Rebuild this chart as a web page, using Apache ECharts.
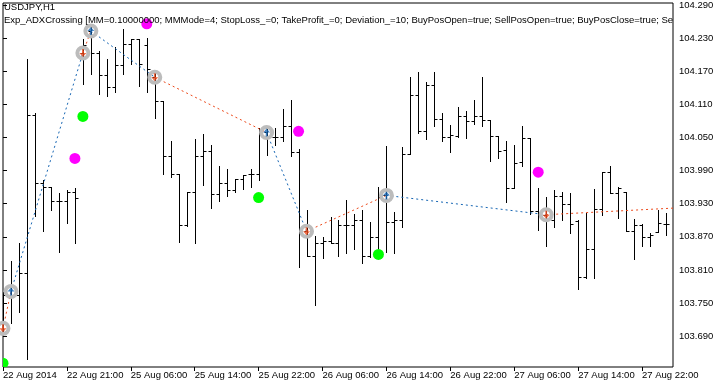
<!DOCTYPE html>
<html><head><meta charset="utf-8">
<script src="https://cdn.jsdelivr.net/npm/echarts@6/dist/echarts.min.js"></script>
<style>html,body{margin:0;padding:0;background:#fff}#c{width:726px;height:387px}</style>
</head><body><div id="c"></div>
<script>
// ---- data ----
const tickPositions = [0, 8, 16, 24, 32, 40, 48, 56, 64, 72, 80];
const tickLabels = ["22 Aug 2014", "22 Aug 21:00", "25 Aug 06:00", "25 Aug 14:00", "25 Aug 22:00", "26 Aug 06:00", "26 Aug 14:00", "26 Aug 22:00", "27 Aug 06:00", "27 Aug 14:00", "27 Aug 22:00"];
const priceTicks = [103.69, 103.75, 103.81, 103.87, 103.93, 103.99, 104.05, 104.11, 104.17, 104.23, 104.29];

const opens = [103.704,103.764,103.764,103.805,104.091,103.967,103.960,103.935,103.935,103.952,
104.203,104.243,104.203,104.163,104.142,104.181,104.219,104.228,104.218,104.159,
104.116,104.017,103.983,103.891,103.951,104.017,104.026,103.947,103.967,103.955,
103.974,103.983,103.983,104.059,104.050,104.050,104.070,104.023,103.880,103.835,
103.858,103.863,103.858,103.891,103.891,103.901,103.835,103.869,103.945,103.897,
103.901,104.020,104.127,104.061,104.145,104.083,104.051,104.053,104.088,104.079,
104.089,104.082,104.053,104.027,103.959,104.006,104.049,103.916,103.910,103.900,
103.943,103.930,103.898,103.797,103.847,103.920,103.987,103.950,103.951,103.880,
103.892,103.869,103.878,103.894];
const highs = [103.770,103.826,103.859,104.192,104.094,103.972,103.960,103.950,103.954,103.959,
104.229,104.252,104.207,104.192,104.213,104.246,104.228,104.228,104.231,104.168,
104.116,104.044,103.983,103.951,104.047,104.057,104.037,103.999,103.993,103.975,
103.982,103.993,104.067,104.071,104.068,104.102,104.118,104.029,103.919,103.871,
103.869,103.905,103.900,103.936,103.912,103.919,103.897,103.960,104.034,103.915,
104.032,104.159,104.169,104.151,104.168,104.094,104.073,104.106,104.098,104.118,
104.160,104.082,104.053,104.043,104.037,104.070,104.049,103.959,103.942,103.954,
103.952,103.950,103.900,103.913,103.957,103.988,103.999,103.960,103.952,103.903,
103.894,103.876,103.919,103.913];
const lows = [103.694,103.714,103.734,103.648,103.907,103.880,103.919,103.842,103.895,103.858,
104.147,104.165,104.129,104.126,104.132,104.165,104.183,104.144,104.133,104.086,
103.983,103.978,103.860,103.889,103.859,103.964,103.923,103.934,103.944,103.952,
103.957,103.960,103.972,104.019,104.037,104.044,104.017,103.815,103.835,103.747,
103.832,103.858,103.836,103.841,103.848,103.822,103.833,103.848,103.842,103.841,
103.888,104.020,104.058,104.048,104.071,104.043,104.023,104.051,104.049,104.074,
104.070,104.007,104.013,103.933,103.959,103.999,103.912,103.882,103.854,103.888,
103.900,103.876,103.776,103.796,103.796,103.909,103.949,103.904,103.880,103.830,
103.854,103.854,103.878,103.874];
const closes = [103.764,103.764,103.805,104.091,103.967,103.960,103.935,103.935,103.952,103.941,
104.218,104.203,104.163,104.142,104.181,104.219,104.228,104.183,104.174,104.116,
104.017,103.983,103.891,103.951,104.017,104.026,103.947,103.967,103.955,103.974,
103.982,103.983,104.057,104.050,104.050,104.070,104.023,103.880,103.835,103.858,
103.863,103.858,103.891,103.891,103.901,103.835,103.869,103.942,103.897,103.901,
104.020,104.127,104.061,104.145,104.083,104.051,104.055,104.088,104.079,104.089,
104.082,104.053,104.025,103.959,104.004,104.049,103.916,103.910,103.900,103.943,
103.930,103.894,103.797,103.847,103.920,103.987,103.950,103.959,103.880,103.892,
103.869,103.874,103.895,103.894];

const tradeBars = [0, 1, 10, 11, 19, 33, 38, 48, 68];
const tradePrices = [103.704, 103.771, 104.203, 104.243, 104.159, 104.059, 103.880, 103.945, 103.910];
const tradeTypes = ["sell", "buy", "sell", "buy", "sell", "buy", "sell", "buy", "sell"];
const openEndBar = 84;
const openEndPrice = 103.922;

const buySignalBars = [0, 10, 32, 47];
const buySignalPrices = [103.641, 104.088, 103.941, 103.838];
const sellSignalBars = [9, 18, 37, 67];
const sellSignalPrices = [104.012, 104.256, 104.061, 103.987];

const titleLine1 = "USDJPY,H1";
const titleLine2 = "Exp_ADXCrossing [MM=0.10000000; MMMode=4; StopLoss_=0; TakeProfit_=0; Deviation_=10; BuyPosOpen=true; SellPosOpen=true; BuyPosClose=true; Se";

// ---- chart ----
const FONT = "Liberation Sans";
const FS = 9.5;
const BLUE = "#1666b4";
const RED = "#ec4a1c";

const chart = echarts.init(document.getElementById('c'), null, {renderer: 'canvas'});

const ohlc = opens.map((o, i) => [i, o, highs[i], lows[i], closes[i]]);

const series = [];
series.push({
  type: 'custom',
  name: 'bars',
  data: ohlc,
  encode: {x: 0, y: [1, 2, 3, 4]},
  clip: true,
  z: 2,
  renderItem: function (params, api) {
    const i = api.value(0);
    const o = api.coord([i, api.value(1)]);
    const h = api.coord([i, api.value(2)]);
    const l = api.coord([i, api.value(3)]);
    const c = api.coord([i, api.value(4)]);
    const x = Math.round(o[0]) + 0.5;
    const st = {stroke: '#000', lineWidth: 1};
    const oy = Math.round(o[1]) + 0.5, cy = Math.round(c[1]) + 0.5;
    return {type: 'group', children: [
      {type: 'line', shape: {x1: x, y1: Math.round(h[1]), x2: x, y2: Math.round(l[1]) + 1}, style: st},
      {type: 'line', shape: {x1: x - 3, y1: oy, x2: x, y2: oy}, style: st},
      {type: 'line', shape: {x1: x, y1: cy, x2: x + 3, y2: cy}, style: st}
    ]};
  }
});

// trade connecting lines
for (let k = 0; k < tradeBars.length; k++) {
  const x2 = k + 1 < tradeBars.length ? tradeBars[k + 1] : openEndBar;
  const y2 = k + 1 < tradeBars.length ? tradePrices[k + 1] : openEndPrice;
  series.push({
    type: 'line',
    data: [[tradeBars[k], tradePrices[k]], [x2, y2]],
    symbol: 'none',
    clip: true,
    silent: true,
    z: 3,
    lineStyle: {color: tradeTypes[k] === 'buy' ? BLUE : RED, width: 1, type: [2, 3]}
  });
}

// gray rings
series.push({
  type: 'scatter',
  data: tradeBars.map((b, k) => [b, tradePrices[k]]),
  symbol: 'circle',
  symbolSize: 11,
  z: 4,
  itemStyle: {color: 'rgba(0,0,0,0)', borderColor: '#bcbcbc', borderWidth: 4, opacity: 1}
});
const upArrow = 'path://M4,0 L8,4 L5,4 L5,8 L3,8 L3,4 L0,4 Z';
series.push({
  type: 'scatter',
  data: tradeBars.map((b, k) => [b, tradePrices[k], tradeTypes[k]]).filter(d => d[2] === 'buy'),
  symbol: upArrow,
  symbolSize: [7, 8],
  z: 5,
  itemStyle: {color: BLUE}
});
series.push({
  type: 'scatter',
  data: tradeBars.map((b, k) => [b, tradePrices[k], tradeTypes[k]]).filter(d => d[2] === 'sell'),
  symbol: upArrow,
  symbolRotate: 180,
  symbolSize: [7, 8],
  z: 5,
  itemStyle: {color: RED}
});

function dotSeries(bars, prices, color) {
  return {
    type: 'custom',
    data: bars.map((b, k) => [b, prices[k]]),
    encode: {x: 0, y: 1},
    clip: true,
    z: 6,
    renderItem: function (params, api) {
      const p = api.coord([api.value(0), api.value(1)]);
      return {type: 'circle', shape: {cx: p[0], cy: p[1], r: 5.5}, style: {fill: color}};
    }
  };
}
series.push(dotSeries(buySignalBars, buySignalPrices, '#00ff00'));
series.push(dotSeries(sellSignalBars, sellSignalPrices, '#ff00ff'));

chart.setOption({
  animation: false,
  backgroundColor: '#ffffff',
  grid: {left: 2, top: 2, width: 671, height: 365, show: true, borderColor: '#000', borderWidth: 1, backgroundColor: '#fff'},
  xAxis: {
    type: 'value', min: 0, max: 83.875,
    axisLine: {show: false},
    splitLine: {show: false},
    axisTick: {show: true, length: 4, customValues: tickPositions, lineStyle: {color: '#000'}},
    axisLabel: {
      customValues: tickPositions,
      formatter: v => tickLabels[tickPositions.indexOf(v)] || '',
      align: 'left', margin: 3, color: '#000', fontFamily: FONT, fontSize: FS
    }
  },
  yAxis: {
    type: 'value', position: 'right', min: 103.634, max: 104.2936,
    axisLine: {show: false},
    splitLine: {show: false},
    axisTick: {show: true, length: 4, customValues: priceTicks, lineStyle: {color: '#000'}},
    axisLabel: {
      customValues: priceTicks,
      formatter: v => Number(v).toFixed(3),
      margin: 6, color: '#000', fontFamily: FONT, fontSize: FS
    }
  },
  graphic: [
    {type: 'text', left: 4, top: 2, z: 10, style: {text: titleLine1, fill: '#000', font: FS + 'px "' + FONT + '"'}},
    {type: 'text', left: 4, top: 15, z: 10, style: {text: titleLine2, fill: '#000', font: FS + 'px "' + FONT + '"'}}
  ],
  series: series
});
</script></body></html>
